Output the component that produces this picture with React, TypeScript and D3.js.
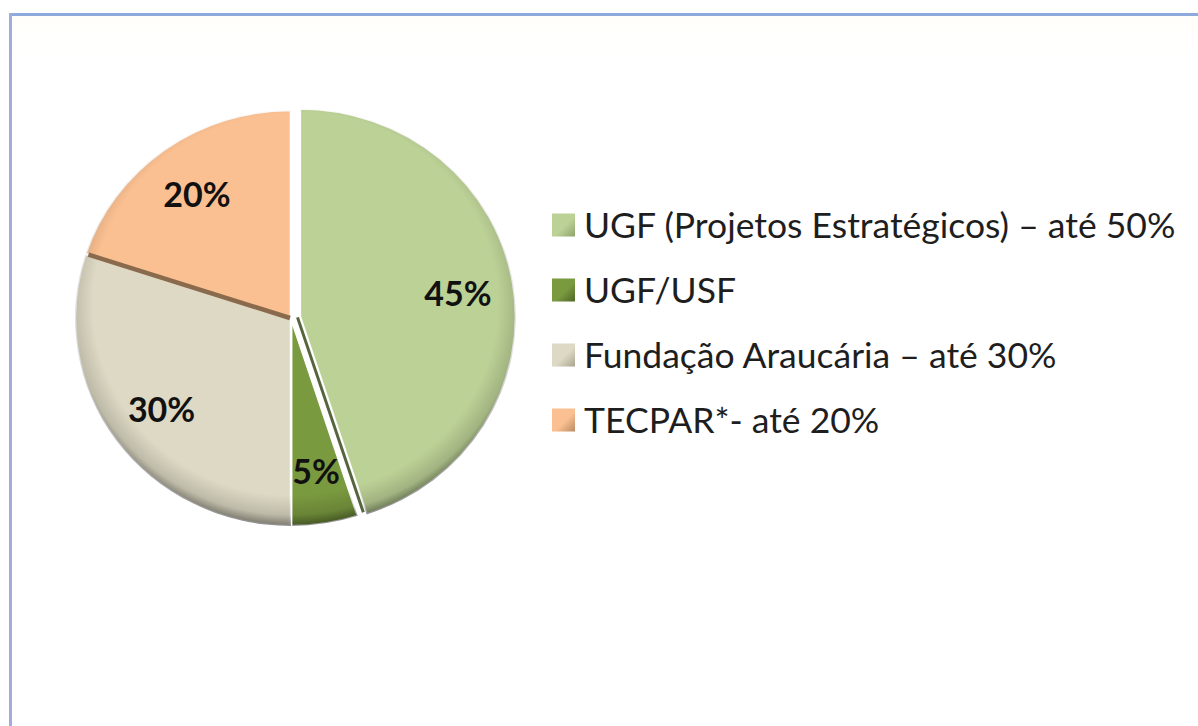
import React from "react";
import * as d3 from "d3";

const categories = [
  "UGF (Projetos Estratégicos) – até 50%",
  "UGF/USF",
  "Fundação Araucária – até 30%",
  "TECPAR*- até 20%",
];
const values = [45, 5, 30, 20];
const labels = ["45%", "5%", "30%", "20%"];
const colors = ["#bcd196", "#7a9a3f", "#ddd9c4", "#fbc091"];
const edgeColors = ["#8da36a", "#4e6626", "#a8a48f", "#b98b63"];
const exploded = [9, 0, 0, 0];

const W = 1198;
const H = 726;
const cx = 291;
const cy = 318;
const rx = 216;
const ry = 208;
const labelR = 160;

export default function App() {
  const pie = d3.pie<number>().sort(null).startAngle(0).endAngle(2 * Math.PI);
  const arcs = pie(values);
  const arc = d3.arc<d3.PieArcDatum<number>>().innerRadius(0).outerRadius(rx);
  const labelArc = d3.arc<d3.PieArcDatum<number>>().innerRadius(labelR).outerRadius(labelR);
  const sy = ry / rx;

  const legendY = d3.scaleBand<number>().domain(d3.range(categories.length)).range([192, 452]);

  const off = (i: number) => {
    const a = arcs[i];
    const mid = (a.startAngle + a.endAngle) / 2;
    return [exploded[i] * Math.sin(mid), -exploded[i] * Math.cos(mid)];
  };

  return (
    <svg width={W} height={H} style={{ position: "absolute", left: 0, top: 0, background: "#fff" }}>
      <defs>
        <radialGradient id="bevel" gradientUnits="userSpaceOnUse" cx={0} cy={-14} r={rx + 14}>
          <stop offset="0.86" stopColor="#000" stopOpacity="0" />
          <stop offset="0.95" stopColor="#000" stopOpacity="0.14" />
          <stop offset="1" stopColor="#000" stopOpacity="0.45" />
        </radialGradient>
        <linearGradient id="bg" x1="0" y1="0" x2="0" y2="1">
          <stop offset="0" stopColor="#fffef9" />
          <stop offset="0.06" stopColor="#ffffff" />
          <stop offset="1" stopColor="#ffffff" />
        </linearGradient>
        {colors.map((c, i) => (
          <linearGradient key={i} id={`leg${i}`} x1="0" y1="0" x2="1" y2="1">
            <stop offset="0" stopColor={c} />
            <stop offset="0.55" stopColor={c} />
            <stop offset="1" stopColor={edgeColors[i]} />
          </linearGradient>
        ))}
      </defs>
      <rect x={9} y={13} width={W} height={H} fill="url(#bg)" />
      <line x1={9} y1={14.5} x2={W} y2={14.5} stroke="#8ea9db" strokeWidth={3} />
      <line x1={10.5} y1={13} x2={10.5} y2={H} stroke="#a3abdd" strokeWidth={3} />

      {arcs.map((a, i) => {
        const [dx, dy] = off(i);
        return (
          <g key={i} transform={`translate(${cx + dx},${cy + dy}) scale(1,${sy})`}>
            <path d={arc(a) || ""} fill={colors[i]} stroke="#fff" strokeWidth={2.5} />
            <path d={arc(a) || ""} fill="url(#bevel)" stroke="none" />
          </g>
        );
      })}
      {/* dark separator edge between 20% and 30% slices */}
      {arcs.map((a, i) => {
        if (i !== 3) return null;
        const ang = a.startAngle;
        return (
          <line
            key={"sep" + i}
            x1={cx - 1}
            y1={cy}
            x2={cx + (rx - 3) * Math.sin(ang)}
            y2={cy - (ry - 3) * Math.cos(ang)}
            stroke="#8a6a4c"
            strokeWidth={4.5}
          />
        );
      })}
      {/* bevel shadow along the left edge of the exploded slice */}
      {arcs.map((a, i) => {
        if (i !== 0) return null;
        const ang = a.endAngle;
        const [dx, dy] = off(i);
        const ox = cx + dx;
        const oy = cy + dy;
        const nx = Math.cos(ang) * 2.5;
        const ny = Math.sin(ang) * 2.5;
        return (
          <line
            key={"sep0"}
            x1={ox + nx}
            y1={oy + ny}
            x2={ox + (rx - 3) * Math.sin(ang) + nx}
            y2={oy - (ry - 3) * Math.cos(ang) + ny}
            stroke="#56653d"
            strokeWidth={3}
          />
        );
      })}

      {arcs.map((a, i) => {
        const [lx, ly] = labelArc.centroid(a);
        const [dx, dy] = off(i);
        return (
          <text
            key={"l" + i}
            x={cx + dx + lx}
            y={cy + dy + ly * sy}
            textAnchor="middle"
            dominantBaseline="central"
            fontFamily="Lato, 'Open Sans', sans-serif"
            fontWeight={700}
            fontSize={34}
            fill="#111"
          >
            {labels[i]}
          </text>
        );
      })}

      {categories.map((c, i) => {
        const y = (legendY(i) || 0) + legendY.bandwidth() / 2;
        return (
          <g key={"lg" + i}>
            <rect x={552} y={y - 11} width={23} height={23} fill={`url(#leg${i})`} />
            <text
              x={584}
              y={y}
              dominantBaseline="central"
              fontFamily="Lato, 'Open Sans', sans-serif"
              fontSize={35.5}
              fill="#1e1e1e"
            >
              {c}
            </text>
          </g>
        );
      })}
    </svg>
  );
}
